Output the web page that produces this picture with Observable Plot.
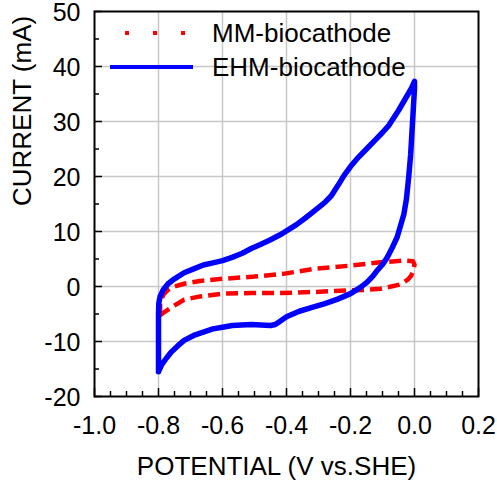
<!DOCTYPE html>
<html><head><meta charset="utf-8">
<script src="https://cdn.jsdelivr.net/npm/d3@7"></script>
<script src="https://cdn.jsdelivr.net/npm/@observablehq/plot@0.6"></script>
<style>
body{margin:0;background:#fff;}
#wrap{position:relative;width:497px;height:483px;}
#legend{position:absolute;left:0;top:0;pointer-events:none;}
</style>
</head><body><div id="wrap"></div>
<script>
// ---- data ----
const seriesNames = ["MM-biocathode", "EHM-biocathode"];
const xTitle = "POTENTIAL (V vs.SHE)";
const yTitle = "CURRENT (mA)";
const xTicks = [-1.0, -0.8, -0.6, -0.4, -0.2, 0.0, 0.2];
const xTickLabels = ["-1.0", "-0.8", "-0.6", "-0.4", "-0.2", "0.0", "0.2"];
const xMinor = [-0.95, -0.9, -0.85, -0.75, -0.7, -0.65, -0.55, -0.5, -0.45, -0.35, -0.3, -0.25, -0.15, -0.1, -0.05, 0.05, 0.1, 0.15];
const yTicks = [-20, -10, 0, 10, 20, 30, 40, 50];
const yMinor = [-15, -5, 5, 15, 25, 35, 45];
const xGrid = [-0.8, -0.6, -0.4, -0.2, 0.0];
const yGrid = [-10, 0, 10, 20, 30, 40];

// EHM-biocathode (blue): potential (V) and current (mA)
const ehmPotential = [
  -0.8, -0.8, -0.8, -0.799, -0.795, -0.785, -0.77, -0.75, -0.72, -0.69, -0.66, -0.63, -0.6,
  -0.57, -0.54, -0.51, -0.48, -0.45, -0.42, -0.4, -0.37, -0.34, -0.31, -0.28, -0.26, -0.24,
  -0.22, -0.2, -0.18, -0.15, -0.12, -0.1, -0.08, -0.05, -0.03, -0.01, 0.0,
  0.0, -0.003, -0.007, -0.012, -0.018, -0.025, -0.033, -0.044, -0.054, -0.07, -0.085, -0.1,
  -0.117, -0.13, -0.148, -0.17, -0.2, -0.24, -0.28, -0.32, -0.36, -0.38, -0.4, -0.42, -0.435,
  -0.45, -0.48, -0.51, -0.54, -0.57, -0.6, -0.63, -0.66, -0.69, -0.72, -0.74, -0.76, -0.775,
  -0.79, -0.8
];
const ehmCurrent = [
  -15.5, -10, -5, -3, -1.8, -0.6, 0.5, 1.4, 2.5, 3.2, 3.9, 4.3, 4.7,
  5.3, 6.0, 6.9, 7.7, 8.5, 9.4, 10.1, 11.2, 12.5, 13.9, 15.3, 16.5, 18.3,
  20.2, 21.8, 23.2, 25.0, 26.8, 28.0, 29.3, 32.0, 34.0, 36.0, 37.3,
  36, 33, 29, 24, 20, 16, 13.2, 11, 9.0, 7.0, 5.3, 4.0,
  2.9, 1.9, 0.8, -0.2, -1.3, -2.3, -3.1, -3.8, -4.5, -5.0, -5.5, -6.3, -6.9,
  -7.1, -7.0, -6.9, -7.0, -7.1, -7.4, -7.7, -8.3, -8.9, -9.8, -10.8, -11.9, -13.0,
  -14.2, -15.5
];

// MM-biocathode (red)
const mmPotential = [
  -0.795, -0.795, -0.785, -0.77, -0.75, -0.72, -0.67, -0.6, -0.5, -0.41, -0.315, -0.2, -0.106,
  -0.033, -0.005, 0.0, -0.003, -0.01, -0.02, -0.035, -0.05, -0.08, -0.106, -0.15, -0.2,
  -0.315, -0.42, -0.51, -0.6, -0.67, -0.72, -0.76, -0.79, -0.795
];
const mmCurrent = [
  -5.3, -3.0, -1.5, -0.6, 0.0, 0.5, 1.0, 1.4, 1.8, 2.3, 3.2, 3.8, 4.4,
  4.7, 4.6, 4.0, 3.0, 2.0, 1.3, 0.7, 0.3, -0.1, -0.4, -0.6, -0.7,
  -1.0, -1.2, -1.2, -1.3, -1.8, -2.4, -3.8, -5.0, -5.3
];

const ehm = ehmPotential.map((x, i) => ({x, y: ehmCurrent[i]}));
const mm = mmPotential.map((x, i) => ({x, y: mmCurrent[i]}));

const gridStyle = {stroke: "#c8c8c8", strokeOpacity: 1, strokeWidth: 1.5};
const FONT = "'Liberation Sans', Arial, sans-serif";

const chart = Plot.plot({
  width: 497,
  height: 483,
  marginLeft: 94,
  marginRight: 19,
  marginTop: 11,
  marginBottom: 87,
  x: {domain: [-1.0, 0.2]},
  y: {domain: [-20, 50]},
  style: {fontFamily: FONT, fontSize: "25px", color: "black", background: "white"},
  marks: [
    Plot.gridX(xGrid, gridStyle),
    Plot.gridY(yGrid, gridStyle),
    Plot.line(mm, {x: "x", y: "y", stroke: "#ff0000", strokeWidth: 4.5, strokeDasharray: "12,6", strokeLinecap: "butt"}),
    Plot.line(ehm, {x: "x", y: "y", stroke: "#0000ff", strokeWidth: 5.5, strokeLinejoin: "round"}),
    Plot.axisX(xTicks, {tickSize: 0, tickPadding: 20, tickFormat: (d, i) => xTickLabels[i], label: null}),
    Plot.axisX(xTicks, {tickSize: -8, fill: "none", strokeWidth: 1.5}),
    Plot.axisX(xMinor, {tickSize: -5, fill: "none", strokeWidth: 1.5}),
    Plot.axisY(yTicks, {tickSize: 0, tickPadding: 14, tickFormat: d => String(d), label: null, dy: 1}),
    Plot.axisY(yTicks, {tickSize: -8, fill: "none", strokeWidth: 1.5}),
    Plot.axisY(yMinor, {tickSize: -5, fill: "none", strokeWidth: 1.5}),
    Plot.frame({stroke: "black", strokeWidth: 2}),
    Plot.text([xTitle], {text: d => d, frameAnchor: "bottom", lineAnchor: "middle", dx: -10, dy: 70, fontSize: 26}),
    Plot.text([yTitle], {text: d => d, frameAnchor: "left", rotate: -90, lineAnchor: "middle", dx: -72, dy: 2, fontSize: 26})
  ]
});

const wrap = document.getElementById("wrap");
wrap.appendChild(chart);

// legend overlay
const ns = "http://www.w3.org/2000/svg";
const lg = document.createElementNS(ns, "svg");
lg.setAttribute("id", "legend");
lg.setAttribute("width", 497);
lg.setAttribute("height", 483);
const legendItems = [
  {name: seriesNames[0], color: "#ff0000", dash: "4,24", x1: 125, x2: 187, y: 33, w: 4},
  {name: seriesNames[1], color: "#0000ff", dash: null, x1: 110, x2: 193, y: 67, w: 4}
];
for (const it of legendItems) {
  const l = document.createElementNS(ns, "line");
  l.setAttribute("x1", it.x1); l.setAttribute("x2", it.x2);
  l.setAttribute("y1", it.y); l.setAttribute("y2", it.y);
  l.setAttribute("stroke", it.color); l.setAttribute("stroke-width", it.w);
  if (it.dash) l.setAttribute("stroke-dasharray", it.dash);
  lg.appendChild(l);
  const t = document.createElementNS(ns, "text");
  t.setAttribute("x", 212); t.setAttribute("y", it.y + 9);
  t.setAttribute("font-family", FONT);
  t.setAttribute("font-size", 26);
  t.setAttribute("fill", "black");
  t.textContent = it.name;
  lg.appendChild(t);
}
wrap.appendChild(lg);
</script>
</body></html>
